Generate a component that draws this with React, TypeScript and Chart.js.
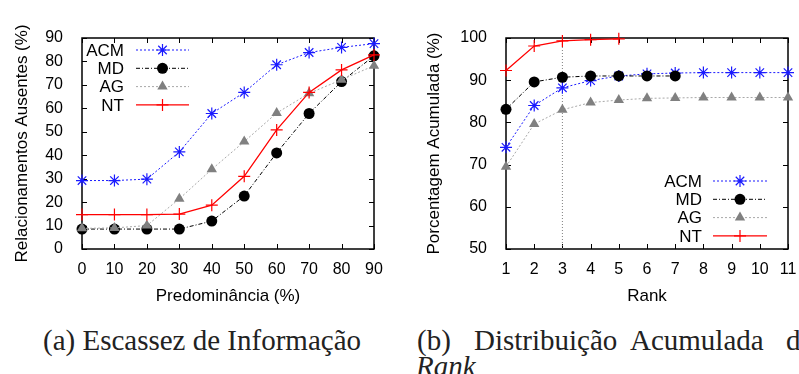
import { useEffect, useRef } from "react";
import { Chart, registerables } from "chart.js";
import { drawPoint } from "chart.js/helpers";

Chart.register(...registerables);

// (a) share of missing relationships vs. predominance
const predominance = [0, 10, 20, 30, 40, 50, 60, 70, 80, 90];
const acmMissing = [29.2, 29.2, 29.8, 41.4, 57.8, 66.8, 78.6, 83.8, 86.0, 87.6];
const mdMissing = [8.5, 8.5, 8.5, 8.5, 11.9, 22.6, 41.0, 57.8, 71.4, 82.4];
const agMissing = [8.8, 9.0, 10.0, 21.4, 34.0, 45.8, 58.0, 66.4, 72.2, 78.2];
const ntMissing = [14.7, 14.7, 14.7, 14.9, 18.7, 31.0, 50.8, 66.8, 76.4, 82.8];

// (b) cumulative percentage by rank
const ranks = [1, 2, 3, 4, 5, 6, 7, 8, 9, 10, 11];
const acmCumulative = [74.1, 84.0, 88.2, 89.9, 91.0, 91.5, 91.7, 91.8, 91.8, 91.8, 91.8];
const mdCumulative = [83.1, 89.6, 90.7, 91.0, 91.0, 91.0, 91.0];
const agCumulative = [69.5, 79.6, 83.0, 84.7, 85.3, 85.7, 85.8, 85.9, 85.9, 85.9, 85.9];
const ntCumulative = [92.3, 98.1, 99.3, 99.6, 99.8];
const markedRank = 3;

const seriesNames = ["ACM", "MD", "AG", "NT"];

const SANS = "'Liberation Sans', Arial, Helvetica, sans-serif";
const SERIF = "'Liberation Serif', 'Times New Roman', serif";

type Style = {
  line: string;
  marker: string;
  dash: number[];
  width: number;
  pointStyle: string;
  radius: number;
  order: number;
};

const styles: Style[] = [
  { line: "#1a1aff", marker: "#1a1aff", dash: [2, 2], width: 1, pointStyle: "star", radius: 6, order: 4 },
  { line: "#000000", marker: "#000000", dash: [4, 2, 1, 2], width: 1, pointStyle: "circle", radius: 5.5, order: 3 },
  { line: "#a8a8a8", marker: "#808080", dash: [2, 2], width: 1, pointStyle: "triangle", radius: 6, order: 2 },
  { line: "#ff0000", marker: "#ff0000", dash: [], width: 1.3, pointStyle: "cross", radius: 6, order: 1 },
];

const pairs = (xs: number[], ys: number[]) => ys.map((y, i) => ({ x: xs[i], y }));

function seriesDataset(i: number, xs: number[], ys: number[]) {
  const s = styles[i];
  const filled = s.pointStyle === "circle" || s.pointStyle === "triangle";
  return {
    label: seriesNames[i],
    data: pairs(xs, ys),
    borderColor: s.line,
    borderWidth: s.width,
    borderDash: s.dash,
    pointStyle: s.pointStyle,
    pointRadius: s.radius,
    pointBackgroundColor: s.marker,
    pointBorderColor: s.marker,
    pointBorderWidth: filled ? 0 : 1.2,
    tension: 0,
    clip: false as const,
    order: s.order,
    fill: false,
  };
}

// box around the plot with inward ticks mirrored on all four sides
const framePlugin = {
  id: "frame",
  beforeDatasetsDraw(chart: any) {
    const { ctx, chartArea: a, scales } = chart;
    const t = 5;
    ctx.save();
    ctx.setLineDash([]);
    ctx.strokeStyle = "#000";
    ctx.lineWidth = 1;
    ctx.beginPath();
    for (const tk of scales.x.ticks) {
      const px = Math.round(scales.x.getPixelForValue(tk.value)) + 0.5;
      ctx.moveTo(px, a.bottom);
      ctx.lineTo(px, a.bottom - t);
      ctx.moveTo(px, a.top);
      ctx.lineTo(px, a.top + t);
    }
    for (const tk of scales.y.ticks) {
      const py = Math.round(scales.y.getPixelForValue(tk.value)) + 0.5;
      ctx.moveTo(a.left, py);
      ctx.lineTo(a.left + t, py);
      ctx.moveTo(a.right, py);
      ctx.lineTo(a.right - t, py);
    }
    ctx.stroke();
    ctx.lineWidth = 1.5;
    ctx.strokeRect(a.left, a.top, a.right - a.left, a.bottom - a.top);
    ctx.restore();
  },
};

// gnuplot-style key: right-aligned name, sample line, marker
const keyPlugin = {
  id: "key",
  afterDatasetsDraw(chart: any, _args: any, opts: any) {
    const { ctx } = chart;
    let row = 0;
    chart.data.datasets.forEach((ds: any) => {
      if (!ds.label) return;
      const y = opts.top + row * opts.step;
      row++;
      ctx.save();
      ctx.font = `17px ${SANS}`;
      ctx.fillStyle = "#000";
      ctx.textAlign = "right";
      ctx.textBaseline = "middle";
      ctx.fillText(ds.label, opts.textRight, y + 1);
      ctx.strokeStyle = ds.borderColor;
      ctx.lineWidth = ds.borderWidth;
      ctx.setLineDash(ds.borderDash || []);
      ctx.beginPath();
      ctx.moveTo(opts.lineStart, y);
      ctx.lineTo(opts.lineEnd, y);
      ctx.stroke();
      ctx.setLineDash([]);
      ctx.fillStyle = ds.pointBackgroundColor;
      ctx.strokeStyle = ds.pointBorderColor;
      ctx.lineWidth = ds.pointBorderWidth;
      drawPoint(
        ctx,
        { pointStyle: ds.pointStyle, radius: ds.pointRadius, rotation: 0, borderWidth: ds.pointBorderWidth },
        (opts.lineStart + opts.lineEnd) / 2,
        y
      );
      ctx.restore();
    });
  },
};

function axisScales(
  xMin: number,
  xMax: number,
  xStep: number,
  yMin: number,
  yMax: number,
  yStep: number,
  xTitle: string,
  yTitle: string,
  yWidth: number,
  xHeight: number,
  yTitlePad: number
) {
  const tickFont = { family: SANS, size: 16 };
  const titleFont = { family: SANS, size: 17 };
  return {
    x: {
      type: "linear" as const,
      min: xMin,
      max: xMax,
      grid: { display: false },
      border: { display: false },
      ticks: { stepSize: xStep, color: "#000", font: tickFont, padding: 3, maxRotation: 0 },
      title: { display: true, text: xTitle, color: "#000", font: titleFont, padding: { top: 0, bottom: 3 } },
      afterFit(scale: any) {
        scale.height = xHeight;
        scale.paddingLeft = 0;
        scale.paddingRight = 0;
      },
    },
    y: {
      min: yMin,
      max: yMax,
      grid: { display: false },
      border: { display: false },
      ticks: { stepSize: yStep, color: "#000", font: tickFont, padding: 11 },
      title: { display: true, text: yTitle, color: "#000", font: titleFont, padding: { top: yTitlePad, bottom: 0 } },
      afterFit(scale: any) {
        scale.width = yWidth;
        scale.paddingTop = 0;
        scale.paddingBottom = 0;
      },
    },
  };
}

const CANVAS_H = 310;

function ScarcityChart() {
  const ref = useRef<HTMLCanvasElement>(null);
  useEffect(() => {
    const chart = new Chart(ref.current!, {
      type: "line",
      data: {
        datasets: [
          seriesDataset(0, predominance, acmMissing),
          seriesDataset(1, predominance, mdMissing),
          seriesDataset(2, predominance, agMissing),
          seriesDataset(3, predominance, ntMissing),
        ] as any,
      },
      options: {
        responsive: false,
        animation: false,
        devicePixelRatio: 1,
        layout: { padding: { left: 0, right: 26, top: 38, bottom: 0 } },
        plugins: {
          legend: { display: false },
          tooltip: { enabled: false },
          key: { top: 50, step: 18.3, textRight: 124, lineStart: 136, lineEnd: 189 },
        } as any,
        scales: axisScales(0, 90, 10, 0, 90, 10, "Predominância (%)", "Relacionamentos Ausentes (%)", 82, CANVAS_H - 249, 12) as any,
      },
      plugins: [framePlugin, keyPlugin],
    });
    return () => chart.destroy();
  }, []);
  return <canvas ref={ref} width={400} height={CANVAS_H} style={{ position: "absolute", left: 0, top: 0 }} />;
}

function RankChart() {
  const ref = useRef<HTMLCanvasElement>(null);
  useEffect(() => {
    const yMin = 50;
    const yMax = 100;
    const chart = new Chart(ref.current!, {
      type: "line",
      data: {
        datasets: [
          seriesDataset(0, ranks, acmCumulative),
          seriesDataset(1, ranks, mdCumulative),
          seriesDataset(2, ranks, agCumulative),
          seriesDataset(3, ranks, ntCumulative),
          {
            label: "",
            data: [
              { x: markedRank, y: yMin },
              { x: markedRank, y: yMax },
            ],
            borderColor: "#808080",
            borderWidth: 1,
            borderDash: [1, 2],
            pointRadius: 0,
            order: 5,
          },
        ] as any,
      },
      options: {
        responsive: false,
        animation: false,
        devicePixelRatio: 1,
        layout: { padding: { left: 0, right: 11, top: 38, bottom: 0 } },
        plugins: {
          legend: { display: false },
          tooltip: { enabled: false },
          key: { top: 181, step: 18.3, textRight: 302, lineStart: 313, lineEnd: 367 },
        } as any,
        scales: axisScales(1, 11, 1, yMin, yMax, 10, "Rank", "Porcentagem Acumulada (%)", 106, CANVAS_H - 249, 24) as any,
      },
      plugins: [framePlugin, keyPlugin],
    });
    return () => chart.destroy();
  }, []);
  return <canvas ref={ref} width={399} height={CANVAS_H} style={{ position: "absolute", left: 400, top: 0 }} />;
}

const captionStyle: any = {
  position: "absolute",
  fontFamily: SERIF,
  fontSize: 29,
  lineHeight: "29px",
  color: "#222",
  whiteSpace: "nowrap",
};

export default function App() {
  return (
    <div
      style={{
        position: "absolute",
        left: 0,
        top: 0,
        width: 799,
        height: 374,
        overflow: "hidden",
        background: "#fff",
      }}
    >
      <ScarcityChart />
      <RankChart />
      <span style={{ ...captionStyle, left: 43, top: 326 }}>(a) Escassez de Informação</span>
      <span style={{ ...captionStyle, left: 417, top: 326 }}>(b)</span>
      <span style={{ ...captionStyle, left: 474, top: 326 }}>Distribuição</span>
      <span style={{ ...captionStyle, left: 630, top: 326 }}>Acumulada</span>
      <span style={{ ...captionStyle, left: 786, top: 326 }}>do</span>
      <span style={{ ...captionStyle, left: 416, top: 352, fontStyle: "italic" }}>Rank</span>
    </div>
  );
}
